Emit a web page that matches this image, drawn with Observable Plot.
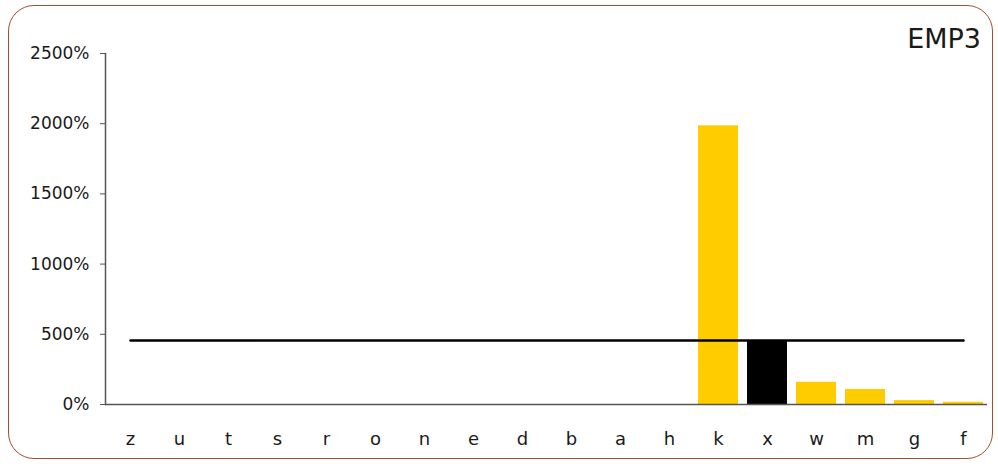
<!DOCTYPE html>
<html>
<head>
<meta charset="utf-8">
<script src="https://cdn.jsdelivr.net/npm/d3@7"></script>
<script src="https://cdn.jsdelivr.net/npm/@observablehq/plot@0.6"></script>
<style>
  html, body { margin: 0; padding: 0; background: #fff; }
  #wrap { position: relative; width: 998px; height: 464px; overflow: hidden; font-family: "DejaVu Sans", sans-serif; }
  #border { position: absolute; left: 8px; top: 5px; width: 985px; height: 454px; border: 1.5px solid #a0522d; border-radius: 26px; box-sizing: border-box; pointer-events: none; }
  #title { position: absolute; right: 17px; top: 25px; font-size: 27px; line-height: 27px; color: #1a1a1a; }
</style>
</head>
<body>
<div id="wrap">
  <div id="chart"></div>
  <div id="border"></div>
  <div id="title">EMP3</div>
</div>
<script>
const categories = ["z","u","t","s","r","o","n","e","d","b","a","h","k","x","w","m","g","f"];
const values = [0,0,0,0,0,0,0,0,0,0,0,0,1985,456,158,107,28,16];
const lineValues = [455,455,455,455,455,455,455,455,455,455,455,455,455,455,455,455,455,455];
const yTicks = [0,500,1000,1500,2000,2500];
const highlight = "x";

const bars = categories.map((c, i) => ({cat: c, value: values[i]}));
const line = categories.map((c, i) => ({cat: c, value: lineValues[i]}));

const chart = Plot.plot({
  width: 998,
  height: 464,
  marginLeft: 105,
  marginRight: 11,
  marginTop: 53,
  marginBottom: 60,
  style: {fontFamily: "DejaVu Sans, sans-serif", fontSize: "16px", color: "#1a1a1a", background: "transparent"},
  x: {domain: categories, paddingInner: 0.184, paddingOuter: 0.092, label: null},
  y: {domain: [0, 2500], label: null},
  marks: [
    Plot.axisY({ticks: yTicks, tickFormat: d => d + "%", tickSize: 5, tickPadding: 11, stroke: "#555", fontSize: 17, label: null, style: {letterSpacing: "1px"}}),
    Plot.axisX({tickSize: 0, tickPadding: 28, fontSize: 18, label: null}),
    Plot.barY(bars, {x: "cat", y: "value", fill: d => d.cat === highlight ? "#000000" : "#FFCC00"}),
    Plot.ruleY([0], {stroke: "#555", strokeWidth: 1.5}),
    Plot.frame({anchor: "left", stroke: "#555", strokeWidth: 1.5}),
    Plot.lineY(line, {x: "cat", y: "value", stroke: "#000", strokeWidth: 2.5})
  ]
});
document.getElementById("chart").appendChild(chart);
</script>
</body>
</html>
